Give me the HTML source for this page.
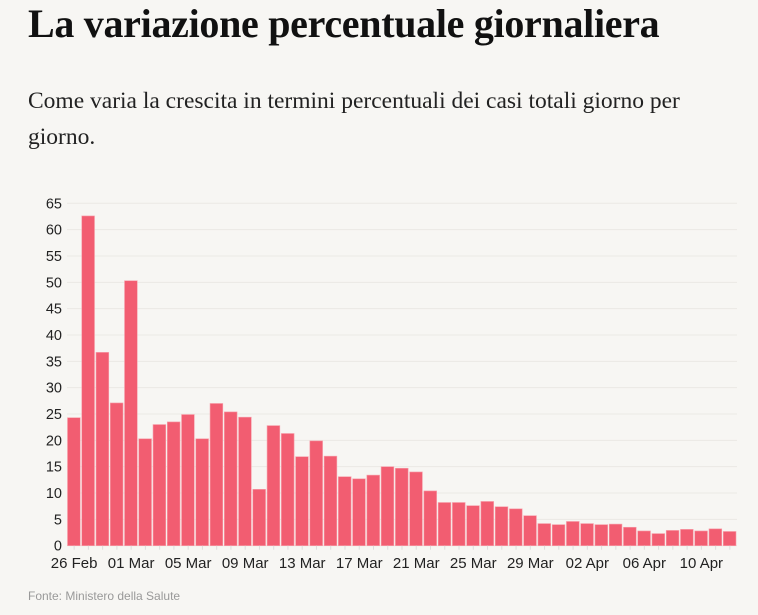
<!DOCTYPE html>
<html><head><meta charset="utf-8"><style>
body{margin:0;background:#f7f6f3;width:758px;height:615px;overflow:hidden;font-family:"Liberation Sans",sans-serif}
h1{position:absolute;left:28px;top:0px;margin:0;font:bold 40px "Liberation Serif",serif;color:#111;letter-spacing:-0.3px}
p.sub{position:absolute;left:28px;top:83px;margin:0;width:690px;font:23.5px/36px "Liberation Serif",serif;color:#222}
.src{position:absolute;left:28px;top:589px;font-size:12px;color:#999}
svg{position:absolute;left:0;top:0}
</style></head><body>
<h1>La variazione percentuale giornaliera</h1>
<p class="sub">Come varia la crescita in termini percentuali dei casi totali giorno per giorno.</p>
<svg id="chart" width="758" height="615"></svg>
<div class="src">Fonte: Ministero della Salute</div>
<script>
const values=[24.3,62.6,36.7,27.1,50.3,20.3,23.0,23.5,24.9,20.3,27.0,25.4,24.4,10.7,22.8,21.3,16.9,19.9,17.0,13.1,12.7,13.4,15.0,14.7,14.0,10.4,8.2,8.2,7.6,8.4,7.4,7.0,5.7,4.2,4.0,4.6,4.2,4.0,4.1,3.5,2.8,2.3,2.9,3.1,2.8,3.2,2.7];
const yTicks=[0,5,10,15,20,25,30,35,40,45,50,55,60,65];
const xLabels=["26 Feb","01 Mar","05 Mar","09 Mar","13 Mar","17 Mar","21 Mar","25 Mar","29 Mar","02 Apr","06 Apr","10 Apr"];
const NS="http://www.w3.org/2000/svg";
const svg=document.getElementById('chart');
const x0=67,x1=737,y0=545.7,yTop=203.3,ymax=65;
const bw=(x1-x0)/values.length;
const y=v=>y0-(v/ymax)*(y0-yTop);
function mk(t,a){const e=document.createElementNS(NS,t);for(const k in a)e.setAttribute(k,a[k]);svg.appendChild(e);return e;}
yTicks.forEach(t=>{
  const g=mk('line',{x1:x0,x2:x1,y1:y(t),y2:y(t),stroke:'#ebe9e4','stroke-width':1});
  
  
  const l=mk('text',{x:62,y:y(t)+5,'text-anchor':'end','font-size':14.5,fill:'#222','font-family':'Liberation Sans, sans-serif'});
  l.textContent=t;
  
  
});
values.forEach((v,i)=>{
  const r=mk('rect',{x:x0+i*bw+0.5,y:y(v),width:bw-1.5,height:y0-y(v),fill:'#f25d71',stroke:'#f7a0ab','stroke-width':0.6});
  
  
  const tk=mk('line',{x1:x0+(i+0.5)*bw,x2:x0+(i+0.5)*bw,y1:y0,y2:y0+4,stroke:'#ddd'});
  
  
});
xLabels.forEach((s,j)=>{
  const t=mk('text',{x:x0+(j*4+0.5)*bw,y:568,'text-anchor':'middle','font-size':15,fill:'#222','font-family':'Liberation Sans, sans-serif'});
  t.textContent=s;
  
  
});
</script>
</body></html>
